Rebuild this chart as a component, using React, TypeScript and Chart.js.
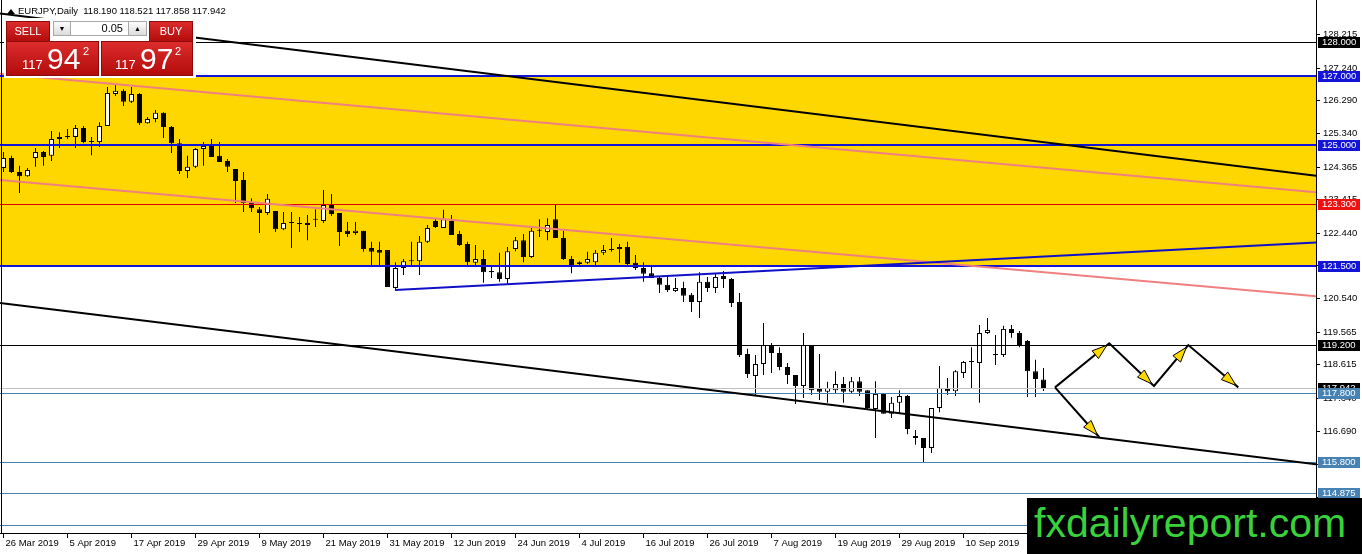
import { useEffect, useRef } from "react"
import { Chart, registerables } from "chart.js"

Chart.register(...registerables)

// EURJPY daily candles, 26 Mar 2019 .. 24 Sep 2019 (one per trading day)
const opens = [
  124.34, 124.63, 124.22, 124.1, 124.63, 124.8, 124.69, 125.18, 125.24, 125.24,
  125.5, 125.09, 125.09, 125.56, 126.49, 126.58, 126.26, 126.49, 125.64, 125.76,
  125.94, 125.53, 125.06, 124.25, 124.37, 124.89, 124.98, 124.69, 124.54, 124.31,
  123.99, 123.35, 123.14, 123.03, 123.09, 122.56, 122.74, 122.71, 122.68, 122.83,
  122.8, 123.26, 123.03, 122.51, 122.45, 122.51, 122.01, 121.95, 121.95, 120.85,
  121.43, 121.63, 121.63, 122.19, 122.8, 122.59, 122.8, 122.42, 122.13, 121.58,
  121.69, 121.34, 121.31, 121.11, 121.98, 122.24, 121.75, 122.51, 122.48, 122.85,
  122.3, 121.69, 121.55, 121.58, 121.6, 121.87, 121.95, 121.98, 122.04, 121.58,
  121.43, 121.28, 121.14, 120.94, 120.76, 120.85, 120.65, 120.44, 121.03, 120.85,
  121.2, 121.11, 120.44, 118.93, 118.29, 118.64, 119.19, 118.96, 118.55, 118.32,
  118.0, 119.19, 117.91, 117.83, 117.88, 118.06, 117.83, 118.14, 117.88, 117.33,
  117.77, 117.19, 117.51, 117.71, 116.55, 116.49, 116.2, 117.36, 117.94, 117.85,
  118.38, 118.7, 118.67, 119.54, 118.93, 118.9, 119.66, 119.54, 119.31, 118.43,
  118.19,
]
const highs = [
  124.8, 124.69, 124.4, 124.34, 124.92, 124.83, 125.41, 125.38, 125.47, 125.59,
  125.56, 125.24, 125.67, 126.69, 126.75, 126.63, 126.69, 126.52, 125.82, 126.02,
  125.96, 125.56, 125.18, 124.69, 124.92, 125.09, 125.18, 125.09, 124.6, 124.31,
  124.22, 123.46, 123.2, 123.58, 123.09, 123.06, 123.06, 122.91, 122.97, 123.14,
  123.7, 123.58, 123.03, 122.77, 122.77, 122.51, 122.19, 122.19, 121.95, 121.6,
  121.69, 122.19, 122.36, 122.68, 122.85, 123.12, 122.97, 122.51, 122.19, 122.1,
  121.95, 121.52, 121.87, 122.04, 122.33, 122.42, 122.59, 122.85, 122.88, 123.26,
  122.51, 121.78, 121.63, 121.9, 121.95, 122.1, 122.3, 122.13, 122.19, 121.81,
  121.6, 121.46, 121.17, 121.23, 121.14, 121.03, 120.7, 121.31, 121.17, 121.26,
  121.34, 121.14, 120.7, 119.08, 118.9, 119.83, 119.25, 119.13, 118.67, 118.32,
  119.54, 119.19, 118.93, 118.12, 118.43, 118.26, 118.26, 118.26, 117.88, 118.14,
  117.77, 117.68, 117.88, 117.74, 116.72, 116.49, 117.36, 118.58, 118.23, 118.46,
  118.73, 119.13, 119.77, 119.98, 119.48, 119.75, 119.77, 119.6, 119.34, 118.76,
  118.521,
]
const lows = [
  124.22, 124.19, 123.61, 124.08, 124.37, 124.4, 124.54, 124.92, 125.18, 124.92,
  125.06, 124.71, 124.95, 125.56, 126.43, 126.14, 126.23, 125.59, 125.62, 125.67,
  125.21, 124.77, 124.16, 124.05, 124.34, 124.4, 124.66, 124.51, 124.22, 123.32,
  123.06, 123.06, 122.45, 122.97, 122.48, 122.53, 122.01, 122.48, 122.24, 122.62,
  122.74, 122.94, 122.07, 122.33, 122.39, 121.9, 121.52, 121.52, 120.88, 120.82,
  121.23, 121.52, 121.23, 122.16, 122.59, 122.59, 122.39, 122.07, 121.52, 121.52,
  121.0, 121.14, 121.03, 120.94, 121.92, 121.6, 121.72, 122.33, 122.24, 122.3,
  121.66, 121.28, 121.52, 121.55, 121.52, 121.81, 121.9, 121.58, 121.52, 121.37,
  121.03, 121.14, 120.7, 120.73, 120.73, 120.44, 120.15, 119.98, 120.73, 120.7,
  120.85, 120.3, 118.84, 118.23, 117.74, 118.32, 118.38, 118.46, 118.06, 117.48,
  117.65, 117.74, 117.59, 117.51, 117.8, 117.51, 117.8, 117.71, 117.3, 116.49,
  117.19, 117.07, 117.21, 116.6, 116.29, 115.79, 116.05, 117.24, 117.74, 117.71,
  118.23, 117.94, 117.51, 119.51, 118.61, 118.84, 119.4, 119.13, 117.68, 117.68,
  117.858,
]
const closes = [
  124.63, 124.22, 124.1, 124.28, 124.8, 124.66, 125.18, 125.24, 125.24, 125.5,
  125.09, 125.09, 125.56, 126.52, 126.58, 126.26, 126.49, 125.64, 125.76, 125.94,
  125.53, 125.06, 124.25, 124.37, 124.89, 124.98, 124.66, 124.51, 124.37, 123.96,
  123.32, 123.17, 123.03, 123.44, 122.56, 122.74, 122.74, 122.71, 122.74, 122.83,
  123.26, 123.0, 122.48, 122.42, 122.51, 121.98, 121.9, 121.87, 120.88, 121.43,
  121.63, 121.63, 122.19, 122.59, 122.62, 122.85, 122.39, 122.1, 121.6, 121.69,
  121.31, 121.31, 121.11, 121.92, 122.24, 121.75, 122.51, 122.51, 122.68, 122.3,
  121.69, 121.49, 121.6, 121.69, 121.87, 121.95, 121.95, 122.04, 121.55, 121.43,
  121.26, 121.14, 120.94, 120.79, 120.85, 120.62, 120.44, 121.03, 120.85, 121.17,
  121.11, 120.41, 118.9, 118.35, 118.64, 119.19, 118.96, 118.55, 118.32, 118.0,
  119.19, 117.88, 117.83, 117.94, 118.06, 117.83, 118.14, 117.83, 117.36, 117.77,
  117.19, 117.51, 117.71, 116.75, 116.49, 116.2, 117.36, 117.94, 117.85, 118.43,
  118.7, 118.7, 119.54, 119.63, 118.9, 119.66, 119.54, 119.19, 118.43, 118.2,
  117.942,
]

const dateTickIdx = [0, 8, 16, 24, 32, 40, 48, 56, 64, 72, 80, 88, 96, 104, 112, 120]
const dateTickLabels = [
  "26 Mar 2019", "5 Apr 2019", "17 Apr 2019", "29 Apr 2019", "9 May 2019", "21 May 2019",
  "31 May 2019", "12 Jun 2019", "24 Jun 2019", "4 Jul 2019", "16 Jul 2019", "26 Jul 2019",
  "7 Aug 2019", "19 Aug 2019", "29 Aug 2019", "10 Sep 2019",
]
const priceTicks = [
  128.215, 127.24, 126.29, 125.34, 124.365, 123.415, 122.44, 121.49, 120.54, 119.565,
  118.615, 117.64, 116.69, 115.715, 114.765,
]

// horizontal levels drawn on the chart
const levelPrices = [128, 127, 125, 123.3, 121.5, 119.2, 117.8, 115.8, 114.875, 113.95]
const bidPrice = 117.942

// shaded zone
const zoneTop = 127
const zoneBottom = 121.5

// trend lines [index1, price1, index2, price2], drawn as rays to the right
const trendLines = [
  [-0.44, 128.83, 160, 124.23],
  [-0.44, 127.08, 160, 123.72],
  [-0.44, 123.99, 160, 120.69],
  [48.94, 120.79, 160, 122.12],
  [-0.44, 120.41, 160, 115.84],
]

// projected path (index, price)
const projUp = [
  [131.44, 117.96],
  [138.22, 119.24],
  [143.81, 118.0],
  [148.1, 119.19],
  [154.35, 117.96],
]
const projDown = [
  [131.44, 117.96],
  [136.98, 116.51],
]

const FONT = '"Liberation Sans", Arial, sans-serif'
const BLUE = "#1414d8"
const STEEL = "#4682B4"

// styles for levelPrices, same order
const levelStyles = [
  { color: "#000", width: 1, box: "#000" },
  { color: BLUE, width: 2, box: BLUE },
  { color: BLUE, width: 2, box: BLUE },
  { color: "#e00000", width: 1, box: "#ee1111" },
  { color: BLUE, width: 2, box: BLUE },
  { color: "#000", width: 1, box: "#000" },
  { color: STEEL, width: 1, box: STEEL },
  { color: STEEL, width: 1, box: STEEL },
  { color: STEEL, width: 1, box: STEEL },
  { color: STEEL, width: 1, box: null },
]
const trendStyles = [
  { color: "#000", width: 2 },
  { color: "#f08080", width: 2 },
  { color: "#f08080", width: 2 },
  { color: "#1010c8", width: 2 },
  { color: "#000", width: 2 },
]

function arrowHead(ctx: CanvasRenderingContext2D, x1: number, y1: number, x2: number, y2: number) {
  const a = Math.atan2(y2 - y1, x2 - x1)
  const tx = x2 - Math.cos(a) * 3
  const ty = y2 - Math.sin(a) * 3
  const bx = tx - Math.cos(a) * 15
  const by = ty - Math.sin(a) * 15
  ctx.beginPath()
  ctx.moveTo(tx, ty)
  ctx.lineTo(bx + Math.sin(a) * 5, by - Math.cos(a) * 5)
  ctx.lineTo(bx - Math.sin(a) * 5, by + Math.cos(a) * 5)
  ctx.closePath()
  ctx.fillStyle = "#ffd800"
  ctx.fill()
  ctx.strokeStyle = "#000"
  ctx.lineWidth = 1
  ctx.stroke()
}

const overlayPlugin = {
  id: "mt4overlay",
  beforeDraw(chart: any) {
    const { ctx, width, height } = chart
    ctx.save()
    ctx.fillStyle = "#fff"
    ctx.fillRect(0, 0, width, height)
    ctx.restore()
  },
  beforeDatasetsDraw(chart: any) {
    const { ctx, chartArea, scales } = chart
    const y1 = scales.y.getPixelForValue(zoneTop)
    const y2 = scales.y.getPixelForValue(zoneBottom)
    ctx.save()
    ctx.fillStyle = "#ffd700"
    ctx.fillRect(chartArea.left, y1, chartArea.right - chartArea.left, y2 - y1)
    ctx.restore()
  },
  afterDatasetsDraw(chart: any) {
    const { ctx, chartArea, scales } = chart
    const X = (v: number) => scales.x.getPixelForValue(v)
    const Y = (v: number) => scales.y.getPixelForValue(v)
    ctx.save()
    ctx.beginPath()
    ctx.rect(chartArea.left, chartArea.top, chartArea.right - chartArea.left, chartArea.bottom - chartArea.top)
    ctx.clip()

    // bid line
    const by = Math.round(Y(bidPrice)) + 0.5
    ctx.strokeStyle = "#c0c0c0"
    ctx.lineWidth = 1
    ctx.beginPath()
    ctx.moveTo(chartArea.left, by)
    ctx.lineTo(chartArea.right, by)
    ctx.stroke()

    levelPrices.forEach((p, i) => {
      const st = levelStyles[i]
      const y = st.width === 1 ? Math.round(Y(p)) + 0.5 : Math.round(Y(p))
      ctx.strokeStyle = st.color
      ctx.lineWidth = st.width
      ctx.beginPath()
      ctx.moveTo(chartArea.left, y)
      ctx.lineTo(chartArea.right, y)
      ctx.stroke()
    })

    trendLines.forEach((t, i) => {
      const st = trendStyles[i]
      const x1 = X(t[0]), y1 = Y(t[1]), x2 = X(t[2]), y2 = Y(t[3])
      const k = (y2 - y1) / (x2 - x1)
      const xe = chartArea.right
      ctx.strokeStyle = st.color
      ctx.lineWidth = st.width
      ctx.beginPath()
      ctx.moveTo(x1, y1)
      ctx.lineTo(xe, y1 + k * (xe - x1))
      ctx.stroke()
    })

    // projection arrows
    const paths = [projUp, projDown]
    paths.forEach((path) => {
      ctx.beginPath()
      path.forEach((pt, j) => {
        if (j === 0) ctx.moveTo(X(pt[0]), Y(pt[1]))
        else ctx.lineTo(X(pt[0]), Y(pt[1]))
      })
      ctx.strokeStyle = "#000"
      ctx.lineWidth = 2
      ctx.stroke()
      for (let j = 1; j < path.length; j++) {
        arrowHead(ctx, X(path[j - 1][0]), Y(path[j - 1][1]), X(path[j][0]), Y(path[j][1]))
      }
    })
    ctx.restore()

    // left frame
    ctx.save()
    ctx.strokeStyle = "#000"
    ctx.lineWidth = 1
    ctx.beginPath()
    ctx.moveTo(chartArea.left + 1.5, chartArea.top)
    ctx.lineTo(chartArea.left + 1.5, chartArea.bottom)
    ctx.stroke()
    ctx.restore()
  },
  afterDraw(chart: any) {
    const { ctx, chartArea, scales } = chart
    const Y = (v: number) => scales.y.getPixelForValue(v)
    const left = chartArea.right + 2
    const box = (p: number, bg: string) => {
      const y = Math.round(Y(p))
      ctx.fillStyle = bg
      ctx.fillRect(left, y - 5, 42, 11)
      ctx.fillStyle = "#fff"
      ctx.font = `9.5px ${FONT}`
      ctx.textBaseline = "middle"
      ctx.textAlign = "left"
      ctx.fillText(p.toFixed(3), left + 4, y + 0.5)
    }
    ctx.save()
    box(bidPrice, "#000")
    levelPrices.forEach((p, i) => {
      const bg = levelStyles[i].box
      if (bg) box(p, bg)
    })
    ctx.restore()
  },
}

const redBox: React.CSSProperties = {
  position: "absolute",
  background: "linear-gradient(#dc2c2c, #b30c0c)",
  border: "1px solid #8e0a0a",
  boxSizing: "border-box",
  color: "#fff",
  fontFamily: FONT,
}

function TradePanel() {
  const n = opens.length - 1
  const title = `EURJPY,Daily  ${opens[n].toFixed(3)} ${highs[n].toFixed(3)} ${lows[n].toFixed(3)} ${closes[n].toFixed(3)}`
  const abs = (s: React.CSSProperties): React.CSSProperties => ({ position: "absolute", lineHeight: 1, ...s })
  return (
    <>
      <div style={{ position: "absolute", left: 7, top: 9, width: 0, height: 0, borderLeft: "4px solid transparent", borderRight: "4px solid transparent", borderBottom: "5px solid #000" }} />
      <div style={{ position: "absolute", left: 18, top: 5, font: `9.5px ${FONT}`, lineHeight: "12px", whiteSpace: "pre", color: "#000" }}>
        {title}
      </div>
      <div style={{ position: "absolute", left: 4, top: 18, width: 192, height: 60, background: "#fff" }} />
      <div style={{ ...redBox, left: 6, top: 21, width: 44, height: 21, fontSize: 11, textAlign: "center", lineHeight: "19px" }}>SELL</div>
      <div style={{ ...redBox, left: 149, top: 21, width: 44, height: 21, fontSize: 11, textAlign: "center", lineHeight: "19px" }}>BUY</div>
      <div style={{ position: "absolute", left: 53, top: 21, width: 18, height: 15, boxSizing: "border-box", border: "1px solid #a8a8a8", background: "linear-gradient(#fdfdfd, #dcdcdc)", font: `7px ${FONT}`, textAlign: "center", lineHeight: "13px" }}>▼</div>
      <div style={{ position: "absolute", left: 71, top: 21, width: 57, height: 15, boxSizing: "border-box", borderTop: "1px solid #a8a8a8", borderBottom: "1px solid #a8a8a8", background: "#fff", font: `11px ${FONT}`, textAlign: "right", lineHeight: "13px", paddingRight: 5 }}>0.05</div>
      <div style={{ position: "absolute", left: 128, top: 21, width: 19, height: 15, boxSizing: "border-box", border: "1px solid #a8a8a8", background: "linear-gradient(#fdfdfd, #dcdcdc)", font: `7px ${FONT}`, textAlign: "center", lineHeight: "13px" }}>▲</div>
      <div style={{ ...redBox, left: 6, top: 41, width: 93, height: 35 }}>
        <span style={abs({ left: 15, top: 16, fontSize: 13 })}>117</span>
        <span style={abs({ left: 40, top: 2, fontSize: 30 })}>94</span>
        <span style={abs({ left: 76, top: 4, fontSize: 11 })}>2</span>
      </div>
      <div style={{ ...redBox, left: 101, top: 41, width: 92, height: 35 }}>
        <span style={abs({ left: 13, top: 16, fontSize: 13 })}>117</span>
        <span style={abs({ left: 38, top: 2, fontSize: 30 })}>97</span>
        <span style={abs({ left: 73, top: 4, fontSize: 11 })}>2</span>
      </div>
    </>
  )
}

export default function App() {
  const chartRef = useRef<HTMLCanvasElement>(null)
  const chartInstance = useRef<Chart | null>(null)

  useEffect(() => {
    if (!chartRef.current) return
    if (chartInstance.current) chartInstance.current.destroy()

    const idx = opens.map((_, i) => i)
    const tickFont = { family: FONT, size: 9.5 }

    chartInstance.current = new Chart(chartRef.current, {
      type: "bar",
      data: {
        datasets: [
          {
            label: "wicks",
            data: idx.map((i) => ({ x: i, y: [lows[i], highs[i]] })) as any,
            backgroundColor: "#000",
            borderWidth: 0,
            barThickness: 1,
            grouped: false,
            inflateAmount: 0,
            order: 2,
          },
          {
            label: "bodies",
            data: idx.map((i) => ({ x: i, y: [opens[i], closes[i]] })) as any,
            backgroundColor: idx.map((i) => (closes[i] >= opens[i] ? "#fff" : "#000")),
            borderColor: "#000",
            borderWidth: 1,
            borderSkipped: false,
            barThickness: 5,
            minBarLength: 1,
            grouped: false,
            inflateAmount: 0,
            order: 1,
          },
        ],
      },
      options: {
        responsive: false,
        animation: false,
        events: [],
        layout: { padding: 0, autoPadding: false },
        plugins: { legend: { display: false }, tooltip: { enabled: false } },
        scales: {
          x: {
            type: "linear",
            min: -0.4375,
            max: 164.0625,
            offset: false,
            afterBuildTicks: (s: any) => {
              s.ticks = dateTickIdx.map((v) => ({ value: v }))
            },
            afterFit: (s: any) => {
              s.height = 21
              s.paddingLeft = 0
              s.paddingRight = 0
            },
            grid: { drawOnChartArea: false, tickLength: 5, color: "#000", offset: false },
            border: { color: "#000" },
            ticks: {
              callback: (_v: any, i: number) => dateTickLabels[i],
              autoSkip: false,
              maxRotation: 0,
              minRotation: 0,
              align: "start",
              padding: 0,
              labelOffset: 2,
              color: "#000",
              font: tickFont,
            },
          },
          y: {
            type: "linear",
            position: "right",
            min: 113.7267,
            max: 129.2209,
            afterBuildTicks: (s: any) => {
              s.ticks = priceTicks.map((v) => ({ value: v }))
            },
            afterFit: (s: any) => {
              s.width = 46
              s.paddingTop = 0
              s.paddingBottom = 0
            },
            grid: { drawOnChartArea: false, tickLength: 4, color: "#000" },
            border: { color: "#000" },
            ticks: {
              callback: (v: any) => Number(v).toFixed(3),
              autoSkip: false,
              padding: 3,
              color: "#000",
              font: tickFont,
            },
          },
        },
      } as any,
      plugins: [overlayPlugin],
    })

    return () => {
      if (chartInstance.current) {
        chartInstance.current.destroy()
        chartInstance.current = null
      }
    }
  }, [])

  return (
    <div style={{ position: "fixed", left: 0, top: 0, width: 1362, height: 554, overflow: "hidden", background: "#fff" }}>
      <canvas ref={chartRef} width={1362} height={554} style={{ display: "block" }} />
      <TradePanel />
      <div style={{ position: "absolute", left: 1027, top: 498, width: 335, height: 56, background: "#000" }}>
        <div style={{ position: "absolute", left: 7, top: 5, font: `41px ${FONT}`, lineHeight: 1, color: "#3ad23a", whiteSpace: "nowrap" }}>
          fxdailyreport.com
        </div>
      </div>
    </div>
  )
}
